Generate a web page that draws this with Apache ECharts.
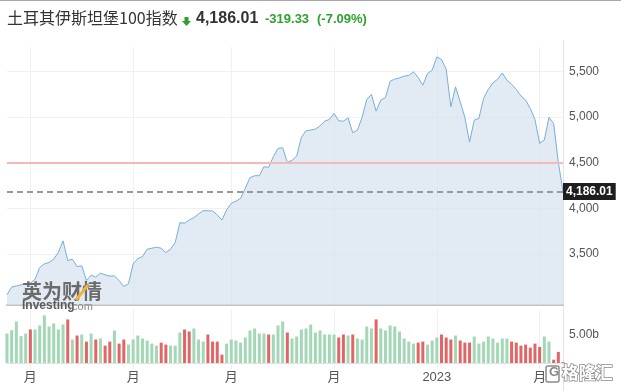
<!DOCTYPE html>
<html><head><meta charset="utf-8">
<script src="https://cdn.jsdelivr.net/npm/echarts@6/dist/echarts.min.js"></script>
<style>html,body{margin:0;padding:0;background:#fff}#c{width:621px;height:391px}</style>
</head><body><div id="c"></div>
<script>
const titleText = '土耳其伊斯坦堡100指数';
const lastPrice = 4186.01;
const changeText = '-319.33';
const changePctText = '(-7.09%)';
const prevClose = 4505.34;
const startDate = '2022-08-24', endDate = '2023-02-08';
const holidays = ['2022-08-30'];
const monthLabels = ['月', '月', '月', '月', '2023', '月'];
const priceTicks = [3500, 4000, 4500, 5000, 5500];
const volumeTicks = [5];

const closes = [
  3055, 3139, 3152, 3164, 3175, 3182, 3226, 3353, 3393, 3408,
  3445, 3521, 3645, 3430, 3445, 3364, 3372, 3211, 3270, 3248,
  3292, 3273, 3259, 3262, 3211, 3145, 3175, 3393, 3452, 3473,
  3554, 3565, 3576, 3565, 3517, 3554, 3626, 3845, 3838, 3874,
  3899, 3940, 3976, 3975, 3973, 3929, 3874, 3984, 4057, 4079,
  4111, 4221, 4337, 4359, 4359, 4457, 4450, 4566, 4658, 4665,
  4505, 4527, 4574, 4778, 4850, 4858, 4869, 4905, 4956, 4975,
  5041, 4960, 4956, 4992, 4829, 4858, 4997, 5194, 5248, 5066,
  5186, 5215, 5394, 5416, 5430, 5449, 5456, 5496, 5434, 5350,
  5478, 5514, 5659, 5631, 5525, 5113, 5331, 5167, 4997, 4727,
  4967, 4986, 5205, 5303, 5375, 5416, 5484, 5404, 5361, 5303,
  5233, 5186, 5095, 4975, 4713, 4749, 4997, 4931, 4505.34, 4186.01
];
// volumes in billions
const volumes = [
  5.29, 5.90, 7.45, 4.82, 5.29, 6.01, 6.01, 6.73, 8.54, 6.55,
  7.09, 6.01, 6.91, 7.82, 4.21, 4.93, 5.11, 3.84, 5.29, 4.21,
  4.39, 3.12, 3.84, 5.83, 3.48, 4.21, 3.30, 4.21, 4.93, 4.39,
  4.03, 3.48, 3.12, 3.66, 3.30, 3.12, 3.12, 5.47, 6.01, 5.65,
  6.19, 4.21, 3.84, 5.11, 3.84, 3.84, 1.50, 3.48, 4.21, 4.03,
  3.66, 4.57, 5.83, 6.19, 5.29, 5.29, 5.11, 5.11, 6.73, 7.45,
  5.47, 4.39, 4.75, 6.01, 6.19, 6.91, 5.47, 5.83, 5.11, 5.11,
  5.11, 4.57, 5.11, 4.93, 5.11, 4.39, 4.21, 6.55, 6.19, 7.82,
  6.19, 5.83, 6.73, 6.55, 5.65, 4.39, 3.84, 3.48, 3.66, 3.84,
  3.30, 4.03, 4.57, 5.11, 4.57, 4.21, 4.93, 4.03, 3.66, 3.66,
  4.75, 3.48, 3.84, 4.75, 4.39, 3.66, 4.39, 4.39, 3.84, 3.66,
  3.12, 3.30, 2.76, 3.48, 2.89, 4.75, 3.84, 0.60, 1.99, 0.18
];
const downDays = [5,13,15,17,19,21,22,24,25,33,34,38,39,43,44,45,46,56,60,71,72,74,79,88,89,93,94,95,97,98,99,108,109,110,111,112,113,114,117,118,119];

function tradingDays(s, e, hol) {
  const out = []; const d = new Date(s + 'T00:00:00Z'); const end = new Date(e + 'T00:00:00Z');
  while (d <= end) {
    const w = d.getUTCDay(); const k = d.toISOString().slice(0, 10);
    if (w !== 0 && w !== 6 && hol.indexOf(k) < 0) out.push(k);
    d.setUTCDate(d.getUTCDate() + 1);
  }
  return out;
}
const dates = tradingDays(startDate, endDate, holidays);
const monthStart = {};
let mk = 0;
for (let i = 1; i < dates.length; i++) {
  if (dates[i].slice(0, 7) !== dates[i - 1].slice(0, 7)) { monthStart[i] = monthLabels[mk++]; }
}
const isMonth = (i) => monthStart[i] !== undefined;
const downSet = new Set(downDays);

const chart = echarts.init(document.getElementById('c'), null, { renderer: 'canvas' });
const fmt = (v) => v.toLocaleString('en-US');

chart.setOption({
  animation: false,
  backgroundColor: '#fff',
  grid: [
    { left: 7, right: 58, top: 47, height: 258 },
    { left: 7, right: 58, top: 310, height: 53 }
  ],
  xAxis: [
    { gridIndex: 0, type: 'category', data: dates, boundaryGap: false,
      axisLabel: { show: false }, axisTick: { show: false },
      axisLine: { lineStyle: { color: '#c4c4c4', width: 2 } },
      splitLine: { show: true, interval: (i) => isMonth(i), lineStyle: { color: '#eef0f3', width: 1 } } },
    { gridIndex: 1, type: 'category', data: dates, boundaryGap: false,
      axisLine: { lineStyle: { color: '#e2e2e2', width: 1 } },
      axisTick: { show: true, interval: (i) => isMonth(i), length: 6, lineStyle: { color: '#eee' } },
      splitLine: { show: true, interval: (i) => isMonth(i), lineStyle: { color: '#f0f0f0' } },
      axisLabel: { show: true, interval: (i) => isMonth(i), formatter: (v, i) => monthStart[i] || '',
        color: '#555', fontSize: 13, margin: 8, fontFamily: 'Liberation Sans, Noto Sans CJK SC' } }
  ],
  yAxis: [
    { gridIndex: 0, type: 'value', position: 'right', min: 2943, max: 5768,
      axisLine: { show: false },
      axisTick: { show: false, customValues: priceTicks },
      axisLabel: { customValues: priceTicks, formatter: fmt, color: '#555', fontSize: 12, margin: 6,
        fontFamily: 'Liberation Sans' },
      splitLine: { show: true, lineStyle: { color: '#eef0f3' } } },
    { gridIndex: 1, type: 'value', position: 'right', min: 0, max: 9.51,
      axisLine: { show: false },
      axisTick: { show: false, customValues: volumeTicks },
      axisLabel: { customValues: volumeTicks, formatter: (v) => v.toFixed(2) + 'b', color: '#555', fontSize: 12, margin: 6,
        fontFamily: 'Liberation Sans' },
      splitLine: { show: false } }
  ],
  series: [
    { type: 'line', xAxisIndex: 0, yAxisIndex: 0, data: closes, showSymbol: false, symbol: 'none',
      lineStyle: { color: '#7aadd8', width: 1 },
      areaStyle: { color: '#d6e3ef', opacity: 0.7 },
      markLine: { silent: true, symbol: 'none', animation: false,
        data: [
          { yAxis: prevClose, lineStyle: { color: '#f6b9b9', width: 2, type: 'solid' }, label: { show: false } },
          { yAxis: lastPrice, lineStyle: { color: '#999', width: 2, type: [6, 4] },
            label: { show: true, position: 'end', distance: 0, formatter: fmt(lastPrice),
              backgroundColor: '#1e1e1e', color: '#fff', fontWeight: 'bold', fontSize: 12,
              fontFamily: 'Liberation Sans', padding: [3, 3, 2, 3] } }
        ] } },
    { type: 'bar', xAxisIndex: 1, yAxisIndex: 1, barWidth: 3, clip: false,
      data: volumes.map((v, i) => ({ value: v, itemStyle: { color: downSet.has(i) ? '#e06666' : '#a3d7b5' } })) }
  ],
  graphic: [
    { type: 'rect', shape: { x: 0, y: 0, width: 621, height: 1 }, style: { fill: '#a8a8a8' } },
    { type: 'line', shape: { x1: 563.5, y1: 40, x2: 563.5, y2: 391 }, style: { stroke: '#e3e3e3', lineWidth: 1 } },
    { type: 'text', left: 7, top: 10, style: { text: titleText, fill: '#333', fontSize: 16, fontFamily: 'Noto Sans CJK SC' } },
    { type: 'polygon', shape: { points: [[184.5,17],[188.5,17],[188.5,21],[191,21],[186.5,26],[182,21],[184.5,21]] }, style: { fill: '#2ea12e' } },
    { type: 'text', left: 196, top: 11, style: { text: fmt(lastPrice), fill: '#333', fontSize: 16, fontWeight: 'bold', fontFamily: 'Liberation Sans' } },
    { type: 'text', left: 265, top: 13, style: { text: changeText, fill: '#2ea12e', fontSize: 13, fontWeight: 'bold', fontFamily: 'Liberation Sans' } },
    { type: 'text', left: 317, top: 13, style: { text: changePctText, fill: '#2ea12e', fontSize: 13, fontWeight: 'bold', fontFamily: 'Liberation Sans' } },
    { type: 'text', left: 22, top: 281, z: 100, style: { text: '英为财情', fill: '#6b6b6b', fontSize: 20, fontWeight: 'bold', fontFamily: 'Noto Sans CJK SC' } },
    { type: 'line', z: 101, shape: { x1: 76, y1: 300, x2: 88, y2: 285 }, style: { stroke: '#f3b23e', lineWidth: 3 } },
    { type: 'text', left: 22, top: 300, z: 100, style: { text: 'Investing', fill: '#5a5a5a', fontSize: 12, fontWeight: 'bold', fontFamily: 'Liberation Sans' } },
    { type: 'text', left: 69, top: 301, z: 100, style: { text: '.com', fill: '#8a8a8a', fontSize: 11, fontFamily: 'Liberation Sans' } },
    { type: 'rect', z: 100, shape: { x: 546, y: 366, width: 13, height: 16, r: 2 }, style: { fill: '#fff', stroke: '#8a8a8a', lineWidth: 1.5 } },
    { type: 'text', left: 549, top: 366, z: 101, style: { text: 'G', fill: '#8a8a8a', fontSize: 13, fontWeight: 'bold', fontFamily: 'Liberation Sans' } },
    { type: 'text', left: 561, top: 363, z: 100, style: { text: '格隆汇', fill: '#fff', stroke: '#8a8a8a', lineWidth: 1.5, fontSize: 17, fontWeight: 'bold', fontFamily: 'Noto Sans CJK SC' } }
  ]
});
</script>
</body></html>
